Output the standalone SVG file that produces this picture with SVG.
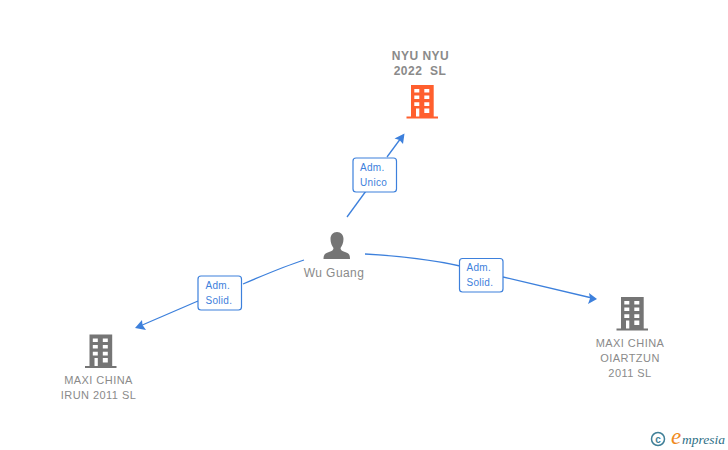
<svg xmlns="http://www.w3.org/2000/svg" xmlns:xlink="http://www.w3.org/1999/xlink" width="728" height="450" viewBox="0 0 728 450">
<style>
.n{font-family:"Liberation Sans",Arial,sans-serif;font-size:11px;fill:#8a8a8a;text-anchor:middle;letter-spacing:.45px}
.b{font-weight:bold;font-size:12px;letter-spacing:.5px;white-space:pre}
.e{fill:none;stroke:#3d80dc;stroke-width:1.3}
.lb{fill:#fff;stroke:#3d80dc;stroke-width:1.2}
.lt{font-family:"Liberation Sans",Arial,sans-serif;font-size:10px;fill:#3d80dc;letter-spacing:.3px}
.ah{fill:#3d80dc}
</style>
<defs>
<path id="bld" fill-rule="evenodd" d="M4.500 0H27.200V31.500H31.500V33.500H0V31.500H4.500ZM7.800 4V7.600H12.800V4ZM17.800 4V7.600H22.800V4ZM7.800 10.600V14H12.800V10.600ZM17.800 10.600V14H22.800V10.600ZM7.800 17.300V21H12.800V17.300ZM17.800 17.300V21H22.800V17.300ZM9.500 23.500V31.500H12.800V23.500ZM17.800 23.500V28H22.800V23.500Z"/>
</defs>
<rect width="728" height="450" fill="#fff"/>
<g id="connectors">
<path class="e" d="M347 217L366 191"/>
<path class="e" d="M387 157L401 138"/>
<polygon class="ah" points="404.500,133.500 403,144 399.500,140 394.500,138.500"/>
<path class="e" d="M304 260Q285 266 243 284"/>
<path class="e" d="M198 301L140 326"/>
<polygon class="ah" points="135,328 142,320 142.500,325 146,330"/>
<path class="e" d="M365 254Q420 257 460 266"/>
<path class="e" d="M503 277L592 298"/>
<polygon class="ah" points="597,299 588,304 590,298.500 589,293"/>
<g id="edge-label-1"><rect class="lb" x="353" y="158" width="43.500" height="34" rx="3"/><text class="lt" x="360" y="171">Adm.</text><text class="lt" x="360" y="186">Unico</text></g>
<g id="edge-label-2"><rect class="lb" x="198" y="276" width="43.500" height="34" rx="3"/><text class="lt" x="205.500" y="289">Adm.</text><text class="lt" x="205.500" y="304">Solid.</text></g>
<g id="edge-label-3"><rect class="lb" x="459.500" y="258.500" width="43.500" height="33.500" rx="3"/><text class="lt" x="466.500" y="271">Adm.</text><text class="lt" x="466.500" y="286">Solid.</text></g>
</g>
<g id="node-nyu">
<text class="n b" x="420.500" y="60">NYU NYU</text>
<text class="n b" x="420" y="75">2022  SL</text>
<use xlink:href="#bld" href="#bld" x="406.500" y="85" fill="#ff5f2e"/>
</g>
<g id="node-wu">
<path fill="#757575" d="M337 232C341 232 343.500 235 343.500 239C343.500 243 342 246 340.500 248C340.500 250 342 251 345 252C349 253 350 255 350 259H323.500C323.500 255 325 253 329 252C332 251 333.500 250 333.500 248C332 246 330.500 243 330.500 239C330.500 235 333 232 337 232Z"/>
<text class="n" x="334" y="277" style="font-size:12px">Wu Guang</text>
</g>
<g id="node-irun">
<use xlink:href="#bld" href="#bld" x="85" y="334.500" fill="#757575"/>
<text class="n" x="98.500" y="384">MAXI CHINA</text>
<text class="n" x="98.500" y="399">IRUN 2011 SL</text>
</g>
<g id="node-oiartzun">
<use xlink:href="#bld" href="#bld" x="616.500" y="297" fill="#757575"/>
<text class="n" x="630" y="347">MAXI CHINA</text>
<text class="n" x="630" y="362">OIARTZUN</text>
<text class="n" x="630" y="377">2011 SL</text>
</g>
<g id="logo">
<circle cx="658" cy="439" r="6.500" fill="none" stroke="#3f7f97" stroke-width="1.500"/>
<text x="658" y="442.500" font-family="Liberation Sans,sans-serif" font-size="10" font-weight="bold" fill="#3f7f97" text-anchor="middle">c</text>
<text x="671" y="444" font-family="Liberation Serif,serif" font-style="italic" font-size="23" fill="#f08a1d">e</text>
<text x="682" y="444" font-family="Liberation Serif,serif" font-style="italic" font-size="13.500" fill="#2f6f86">mpresia</text>
</g>
</svg>
